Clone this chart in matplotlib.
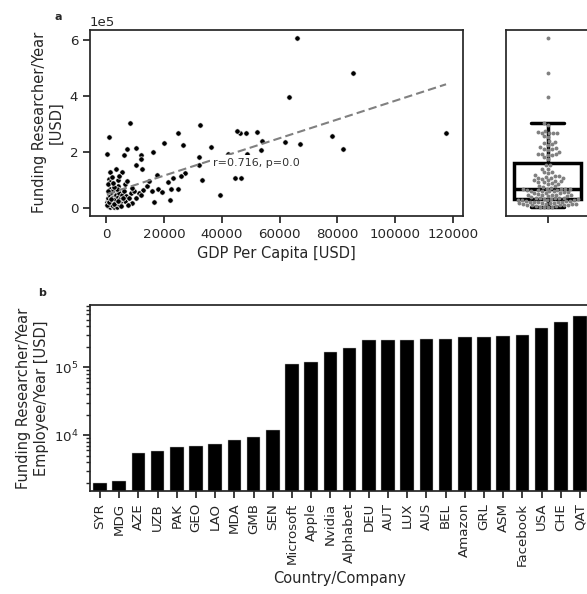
import numpy as np
import matplotlib
matplotlib.use("Agg")
import matplotlib.pyplot as plt
import seaborn as sns

sns.set_style("ticks")
plt.rcParams['font.family'] = ['DejaVu Sans']

# ---- data: panel a (GDP per capita vs funding per researcher) ----
gdp = [66060, 85370, 63190, 117600, 78200, 82010, 67000, 61690, 53720, 53380,
       51990, 48280, 46200, 45060, 44570, 46440, 39510, 36390, 33270, 32340,
       41940, 48520,
       900, 200, 8300, 7140, 6240, 10260, 11890, 12130, 12480, 10160,
       16050, 20100, 24820, 26690, 31990, 32100, 27380, 25750, 23080, 21490,
       24950, 22390, 21940, 17680, 17890, 19410, 15940, 16500, 13970, 14660,
       12690, 11300, 10160, 9010, 8420, 6590, 5300, 4020, 4020, 3220,
       1390, 900, 1140, 1390, 6340, 2530, 1140, 200, 1500, 2300, 4000, 3000,
       500, 800, 1200, 1600, 2000, 2200, 2600, 3100, 3500, 3800, 4300, 4700,
       5200, 600, 1800, 2800, 7500,
       400, 900, 1300, 1700, 2100, 2400, 2900, 3400, 3900, 4400, 4800, 5500,
       6000, 6800, 7800, 9500, 12000,
       300, 1000, 2500, 4100, 700, 1500, 3600, 5800,
       500, 1900, 2700, 3300, 4500, 7200, 9000, 2200]
funding = [605400, 482300, 397200, 267900, 256000, 208300, 226200, 235600, 238100, 206800,
           270400, 267900, 267900, 272900, 107700, 105200, 44200, 215500, 98000, 294500,
           191400, 191400,
           252500, 190300, 302700, 208300, 188900, 211900, 187800, 172400, 140000, 154400,
           197500, 232000, 265700, 224800, 179500, 151900, 125700, 112400, 106300, 91900,
           68200, 68200, 28700, 116000, 65700, 54900, 61000, 21500, 79000, 97000,
           64600, 53900, 35900, 18000, 52400, 83700, 126800, 98000, 76500, 62100,
           127800, 104100, 91900, 68200, 22600, 44200, 26200, 20300, 12000, 12000, 8400, 2400,
           5000, 15000, 3000, 22000, 8000, 27000, 4000, 16000, 25000, 1500, 12000, 20000,
           6000, 26000, 10000, 18000, 10000,
           35000, 48000, 40000, 55000, 33000, 62000, 30000, 45000, 38000, 52000, 31000, 47000,
           58000, 42000, 36000, 60000, 45000,
           9000, 19000, 14000, 24000, 58000, 30000, 66000, 34000,
           85000, 110000, 75000, 140000, 115000, 95000, 72000, 88000]
fit_slope = 3.346
fit_intercept = 47900
corr_text = "r=0.716, p=0.0"

# ---- data: panel b ----
names = ["SYR", "MDG", "AZE", "UZB", "PAK", "GEO", "LAO", "MDA", "GMB", "SEN",
         "Microsoft", "Apple", "Nvidia", "Alphabet", "DEU", "AUT", "LUX", "AUS",
         "BEL", "Amazon", "GRL", "ASM", "Facebook", "USA", "CHE", "QAT"]
values = [1970, 2130, 5550, 5820, 6730, 6960, 7450, 8440, 9540, 12100,
          113000, 121000, 166000, 194000, 255000, 255000, 255000, 257000,
          260000, 278000, 278000, 288000, 301000, 378000, 456000, 577000]

TICK = 9.6
LAB = 10.5
W, H = 587, 594
fig = plt.figure(figsize=(W / 100, H / 100), dpi=100)

def ax_px(l, t, r, b):
    return fig.add_axes([l / W, 1 - b / H, (r - l) / W, (b - t) / H])

for k in ["axes.linewidth", "xtick.major.width", "ytick.major.width"]:
    plt.rcParams[k] = 1.25

# panel a scatter
ax1 = ax_px(90, 30, 463, 215.7)
gdp_a = np.array(gdp)
fund_a = np.array(funding)
ax1.scatter(gdp_a, fund_a, s=15, color="black", edgecolor="white", linewidth=0.5, zorder=2)
xs = np.array([gdp_a.min(), gdp_a.max()])
ax1.plot(xs, fit_slope * xs + fit_intercept, ls=(0, (4, 2)), color="gray", lw=1.5, zorder=3)
ax1.text(36900, 158800, corr_text, fontsize=8, color="#333333", va="center", ha="left",
         zorder=4, bbox=dict(boxstyle="square,pad=0.3", facecolor="white", edgecolor="none"))
ax1.ticklabel_format(axis="y", style="sci", scilimits=(0, 0))
ax1.yaxis.get_offset_text().set_fontsize(TICK)
ax1.tick_params(labelsize=TICK, length=5)
ax1.set_xlabel("GDP Per Capita [USD]", fontsize=LAB)
ax1.set_ylabel("Funding Researcher/Year\n[USD]", fontsize=LAB)
ax1.set_xticks([0, 20000, 40000, 60000, 80000, 100000, 120000])
ax1.set_yticks([0, 200000, 400000, 600000])

# box + swarm
ax2 = ax_px(506, 30, 589.4, 215.7)
ax2.set_ylim(ax1.get_ylim())
sns.boxplot(y=fund_a, ax=ax2, color="white", linecolor="black", linewidth=2.5,
            showfliers=False, width=0.8)
sns.swarmplot(y=fund_a, ax=ax2, color="gray", size=2.8, zorder=5)
ax2.set_xlim(-0.5, 0.5)
ax2.set_ylim(ax1.get_ylim())
ax2.set_yticks([])
ax2.set_xticks([0])
ax2.set_xticklabels([""])
ax2.tick_params(length=5)
ax2.set_ylabel("")

# panel b bars
ax3 = ax_px(90.4, 305.3, 589.6, 491)
x = np.arange(len(names))
ax3.bar(x, values, width=0.7, color="black", edgecolor="#bbbbbb", linewidth=0.3)
ax3.set_yscale("log")
ax3.set_ylim(1517, 816000)
ax3.set_xlim(-0.5, len(names) - 0.5)
ax3.set_xticks(x)
ax3.set_xticklabels(names, rotation=90)
ax3.tick_params(labelsize=TICK, which="major", length=5)
ax3.tick_params(which="minor", length=3, width=1.0)
ax3.set_ylabel("Funding Researcher/Year\nEmployee/Year [USD]", fontsize=LAB)
ax3.set_xlabel("Country/Company", fontsize=LAB)

fig.text(58 / W, 1 - 17 / H, "a", fontsize=8, fontweight="bold", ha="center", va="center")
fig.text(42 / W, 1 - 293 / H, "b", fontsize=8, fontweight="bold", ha="center", va="center")

fig.savefig("out.png", dpi=100)
